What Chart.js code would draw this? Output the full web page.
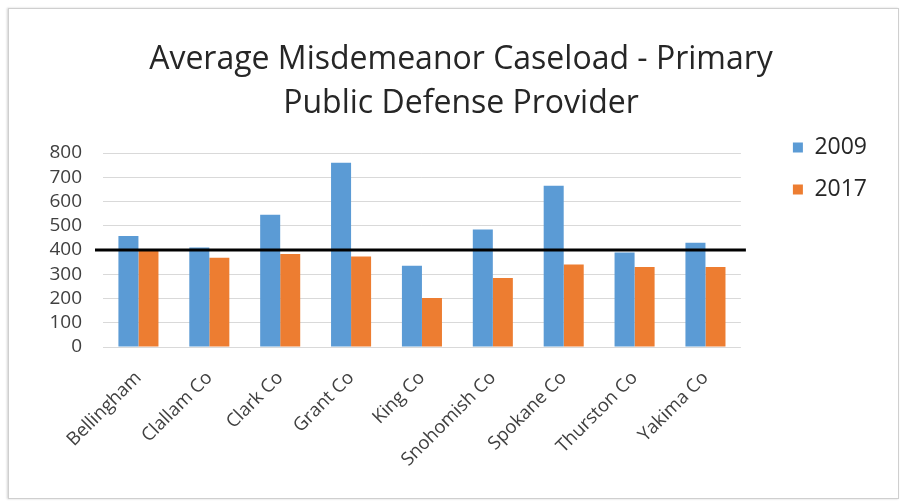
<!DOCTYPE html>
<html>
<head>
<meta charset="utf-8">
<script src="https://cdn.jsdelivr.net/npm/chart.js@4/dist/chart.umd.min.js"></script>
<style>
  html, body { margin: 0; padding: 0; background: #ffffff; }
  #wrap { position: relative; width: 902px; height: 502px; overflow: hidden; background: #fff; }
  #frame { position: absolute; left: 8px; top: 8px; width: 891px; height: 491px;
           border: 1px solid #cfcfcf; box-shadow: -1px 0 2px rgba(0,0,0,0.18); box-sizing: border-box; }
  canvas { position: absolute; left: 0; top: 0; }
</style>
</head>
<body>
<div id="wrap">
  <div id="frame"></div>
  <canvas id="c" width="902" height="502"></canvas>
</div>
<script>
const categories = ["Bellingham", "Clallam Co", "Clark Co", "Grant Co", "King Co",
                    "Snohomish Co", "Spokane Co", "Thurston Co", "Yakima Co"];
const series2009 = [458, 410, 545, 760, 335, 485, 665, 390, 430];
const series2017 = [398, 368, 383, 373, 202, 285, 340, 330, 330];
const seriesNames = ["2009", "2017"];
const yTicks = [0, 100, 200, 300, 400, 500, 600, 700, 800];
const thresholdValue = 400;
const titleLines = ["Average Misdemeanor Caseload - Primary", "Public Defense Provider"];

const FONT = "'Open Sans', 'DejaVu Sans', sans-serif";

const thresholdLine = {
  id: 'thresholdLine',
  afterDatasetsDraw(chart) {
    const {ctx, chartArea, scales} = chart;
    const y = scales.y.getPixelForValue(thresholdValue);
    ctx.save();
    ctx.strokeStyle = '#000000';
    ctx.lineWidth = 3;
    ctx.beginPath();
    ctx.moveTo(chartArea.left - 8, y);
    ctx.lineTo(chartArea.right + 5, y);
    ctx.stroke();
    ctx.restore();
  }
};

new Chart(document.getElementById('c'), {
  type: 'bar',
  data: {
    labels: categories,
    datasets: [
      { label: seriesNames[0], data: series2009, backgroundColor: '#5B9BD5',
        categoryPercentage: 0.565, barPercentage: 1.0 },
      { label: seriesNames[1], data: series2017, backgroundColor: '#ED7D31',
        categoryPercentage: 0.565, barPercentage: 1.0 }
    ]
  },
  options: {
    responsive: false,
    animation: false,
    devicePixelRatio: 1,
    layout: { padding: { left: 45, right: 25, top: 14, bottom: 30 } },
    plugins: {
      tooltip: { enabled: false },
      title: {
        display: true,
        text: titleLines,
        color: '#262626',
        font: { family: FONT, size: 32, weight: 'normal', lineHeight: 44 / 32 },
        padding: { top: 24, bottom: 27 }
      },
      legend: {
        position: 'right',
        align: 'start',
        title: { display: true, text: '', font: { size: 10, lineHeight: 1 }, padding: { top: 93, bottom: 0 } },
        labels: {
          boxWidth: 10,
          boxHeight: 10,
          padding: 19,
          color: '#262626',
          font: { family: FONT, size: 23 }
        }
      }
    },
    scales: {
      x: {
        grid: { display: false, drawTicks: false },
        border: { display: false },
        ticks: {
          autoSkip: false,
          minRotation: 45,
          maxRotation: 45,
          padding: 20,
          color: '#404040',
          font: { family: FONT, size: 18.5 }
        },
        afterFit(s) { s.height = 125; }
      },
      y: {
        min: 0,
        max: 800,
        afterBuildTicks(s) { s.ticks = yTicks.map(v => ({ value: v })); },
        grid: { color: '#d9d9d9', lineWidth: 1, drawTicks: false },
        border: { display: false },
        ticks: {
          autoSkip: false,
          padding: 21,
          color: '#404040',
          font: { family: FONT, size: 19 }
        },
        afterFit(s) { s.width = 58; }
      },
      y2: {
        position: 'right',
        display: true,
        grid: { display: false, drawTicks: false },
        border: { display: false },
        ticks: { display: false },
        afterFit(s) { s.width = 33; }
      }
    }
  },
  plugins: [thresholdLine]
});
</script>
</body>
</html>
